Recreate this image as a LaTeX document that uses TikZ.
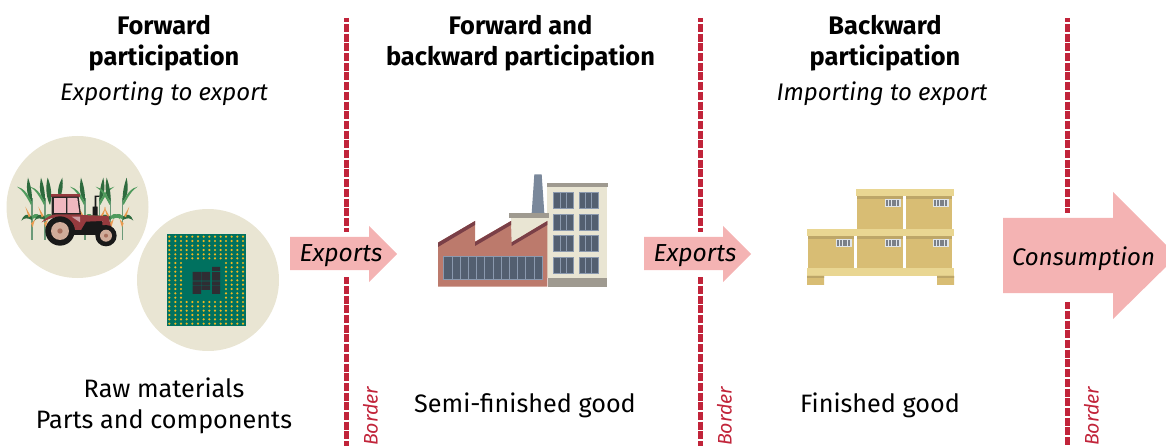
\documentclass[tikz,border=0pt]{standalone}
\usepackage{fontspec}
\setmainfont{Fira Sans}
\definecolor{cream}{HTML}{E9E5D3}
\definecolor{borderred}{HTML}{C1243A}
\definecolor{arrowpink}{HTML}{F4B3B3}
\definecolor{chipgreen}{HTML}{00715F}
\definecolor{chipgold}{HTML}{F2B71F}
\definecolor{chipdark}{HTML}{2F2D33}
\definecolor{stone}{HTML}{9F9A90}
\definecolor{pane}{HTML}{535F70}
\definecolor{paneline}{HTML}{8B99AE}
\definecolor{brick}{HTML}{BC7A6C}
\definecolor{roof}{HTML}{7A3F47}
\definecolor{plank}{HTML}{E9D692}
\definecolor{card}{HTML}{D8BD74}
\definecolor{cardshade}{HTML}{BDA668}
\definecolor{tag}{HTML}{E0E5EA}
\definecolor{tagbar}{HTML}{7B8088}
\definecolor{leafdark}{HTML}{2E6B3E}
\definecolor{leaf}{HTML}{4F9A5C}
\definecolor{stalk}{HTML}{6B9A78}
\definecolor{cob}{HTML}{E99B50}
\definecolor{tractred}{HTML}{963A3E}
\definecolor{tractpink}{HTML}{F0B8C0}
\definecolor{tracthub}{HTML}{D0AC9A}
\definecolor{tractcore}{HTML}{A8705E}
\tikzset{
  titletext/.style={font=\fontsize{25.4}{28}\selectfont\bfseries,text=black,inner sep=0pt,align=center},
  subtext/.style={font=\fontsize{24}{28}\selectfont\itshape,text=black,inner sep=0pt},
  captiontext/.style={font=\fontsize{25.2}{28}\selectfont,text=black,inner sep=0pt},
  arrowtext/.style={font=\fontsize{24.6}{28}\selectfont\itshape,text=black,inner sep=0pt},
  consumptiontext/.style={font=\fontsize{24}{28}\selectfont\itshape,text=black,inner sep=0pt},
  bordertext/.style={font=\fontsize{19.6}{22}\selectfont\itshape,text=borderred,inner sep=0pt,rotate=90},
  borderline/.style={draw=borderred,line width=5pt},
  flow/.style={fill=arrowpink},
  zoomed/.style={x=0.33333pt,y=-0.33333pt},
}
% one corn plant, in units of one third of a pixel; origin on the stalk foot
\newcommand{\cornplant}[2]{%
\begin{scope}[shift={(#1,225)},xscale=#2]
  \draw[stalk,line width=1.2pt] (0,0) -- (0,-125);
  \fill[leafdark] (-12,-187) .. controls (-19,-150) and (-14,-130) .. (0,-115) .. controls (1,-140) and (-4,-165) .. (-12,-187);
  \fill[leaf] (0,-112) .. controls (-12,-140) and (-28,-157) .. (-45,-160) .. controls (-28,-150) and (-15,-128) .. (-3,-105) -- cycle;
  \fill[leafdark] (0,-70) .. controls (-15,-82) and (-25,-76) .. (-32,-58) .. controls (-22,-68) and (-12,-66) .. (0,-60) -- cycle;
  \fill[leaf] (0,-72) .. controls (12,-84) and (22,-78) .. (30,-62) .. controls (20,-70) and (10,-68) .. (0,-62) -- cycle;
  \fill[cob] (-4,-72) -- (-20,-100) -- (-10,-68) -- cycle;
  \fill[cob] (2,-38) -- (9,-62) -- (-3,-50) -- cycle;
\end{scope}}
\newcommand{\cartag}[2]{%
  \fill[tag] (#1,#2) rectangle ++(48,24);
  \fill[tagbar] (#1+3,#2+3) rectangle ++(7,18);
  \fill[tagbar] (#1+12,#2+3) rectangle ++(6,18);
  \fill[tagbar] (#1+21,#2+3) rectangle ++(12,18);
  \fill[tagbar] (#1+36,#2+3) rectangle ++(7,18);}
\newcommand{\carton}[2]{%
  \fill[card] (#1,#2) rectangle ++(138,99);
  \fill[cardshade] (#1,#2) rectangle ++(138,9);}
\newcommand{\winblock}[2]{%
  \fill[pane] (#1,#2) rectangle ++(58,48);
  \draw[paneline,line width=.6pt] (#1,#2) rectangle ++(58,48);
  \draw[paneline,line width=.6pt] (#1+20,#2) -- ++(0,48) (#1+38,#2) -- ++(0,48);}
\begin{document}
\begin{tikzpicture}[x=1pt,y=-1pt]
\useasboundingbox (0,0) rectangle (1166,446);

% borders
\foreach \bx/\bn/\gapa/\gapb in {346.5/a/232/277,700.5/b/232/277,1067.5/c/213/302}{
  \coordinate (top\bn) at (\bx,18);
  \coordinate (upper\bn) at (\bx,\gapa);
  \coordinate (lower\bn) at (\bx,\gapb);
  \coordinate (foot\bn) at (\bx,446);
  \draw[borderline,dash pattern=on 8pt off 1.7pt,dash phase=3.7pt] (top\bn) -- (upper\bn);
  \draw[borderline,dash pattern=on 8pt off 1.7pt,dash phase=0.8pt] (lower\bn) -- (foot\bn);
}

% flow arrows
\fill[flow] (290,237) -- (369,237) -- (369,226) -- (397,254) -- (369,282) -- (369,270) -- (290,270) -- cycle;
\fill[flow] (644,237) -- (723,237) -- (723,226) -- (751,254) -- (723,282) -- (723,270) -- (644,270) -- cycle;
\fill[flow] (1003,218) -- (1113,218) -- (1113,192) -- (1177,256) -- (1113,319) -- (1113,293) -- (1003,293) -- cycle;

% circles
\fill[cream] (77.5,207) circle (71);
\fill[cream] (208,280) circle (71);

% tractor and corn
\begin{scope}[shift={(0,165)},zoomed]
  \cornplant{96}{1}\cornplant{135}{1}\cornplant{255}{1}\cornplant{298}{-1}\cornplant{332}{1}\cornplant{368}{-1}
  \fill[leafdark] (143,38) .. controls (135,70) and (140,100) .. (150,120) .. controls (158,90) and (152,60) .. (143,38);
  \fill[leafdark] (187,38) .. controls (172,65) and (172,85) .. (178,100) .. controls (188,85) and (190,60) .. (187,38);
  % cab
  \fill[tractred] (153,87) -- (241,87) -- (241,95) -- (153,95) -- cycle;
  \fill[black!85] (155,95) -- (236,95) -- (243,150) -- (155,150) -- cycle;
  \fill[tractpink] (161,99) -- (197,99) -- (197,144) -- (161,144) -- cycle;
  \fill[tractpink] (202,99) -- (232,99) -- (238,144) -- (202,144) -- cycle;
  % exhaust
  \fill[black!90] (284,92) -- (298,92) -- (298,96) -- (289,96) -- (289,125) -- (293,125) -- (293,152) -- (278,152) -- (278,125) -- (284,125) -- cycle;
  % chassis
  \fill[black!90] (205,165) -- (300,165) -- (335,190) -- (320,210) -- (215,210) -- cycle;
  % hood and fender
  \fill[tractred] (243,150) -- (325,153) -- (333,186) -- (307,180) -- (307,168) -- (258,170) -- (243,195) -- cycle;
  \fill[tractred] (125,172) .. controls (140,155) and (155,148) .. (170,148) -- (243,148) -- (243,195) -- (225,195) .. controls (222,170) and (205,158) .. (180,156) .. controls (160,156) and (145,162) .. (125,172) -- cycle;
  \fill[tractpink!85!black] (215,155) -- (240,155) -- (240,172) -- cycle;
  % wheels
  \fill[black!90] (180,198) circle (44);
  \fill[tracthub] (180,198) circle (27);
  \fill[tractcore] (180,198) circle (8);
  \fill[black!90] (318,212) circle (32);
  \fill[tracthub] (318,212) circle (18);
  \fill[tractcore] (318,212) circle (6);
\end{scope}

% chip
\begin{scope}[shift={(0,130)},zoomed]
  \fill[chipgreen] (501,312) rectangle (738,587);
  \foreach \cx [count=\ci from 0] in {508,526,543,560,577,594,611,628,645,662,678,695,712,729}{
    \foreach \cy [count=\cj from 0] in {320,333,347,360,373,385,399,412,425,438,451,464,477,490,503,516,529,542,555,568,581}{
      \pgfmathtruncatemacro{\hole}{and(and(\ci>2,\ci<10),and(\cj>5,\cj<15))}
      \ifnum\hole=0 \fill[chipgold] (\cx,\cy) circle (3.6); \fi
    }
  }
  \fill[chipdark] (578,426) rectangle (603,452) (605,426) rectangle (630,452)
    (636,411) rectangle (660,423) (636,426) rectangle (660,452)
    (578,454) rectangle (603,466) (605,454) rectangle (630,466) (636,454) rectangle (660,466)
    (578,468) rectangle (603,492) (605,468) rectangle (630,480) (636,468) rectangle (660,492);
\end{scope}

% factory
\begin{scope}[shift={(420,165)},zoomed]
  \fill[paneline!70!pane] (343,28) -- (365,28) -- (373,145) -- (335,145) -- cycle;
  \fill[cream] (382,60) rectangle (560,340);
  \fill[stone] (380,53) rectangle (563,66);
  \fill[stone] (383,338) rectangle (560,365);
  \foreach \wy in {83,148,212,277}{\winblock{401}{\wy}\winblock{477}{\wy}}
  \fill[cream] (273,158) -- (382,158) -- (382,168) -- (275,232) -- cycle;
  \fill[brick] (54,365) -- (54,233) -- (165,168) -- (165,230) -- (273,168) -- (275,232) -- (382,168) -- (382,365) -- cycle;
  \fill[roof] (54,233) -- (165,168) -- (165,180) -- (54,246) -- cycle;
  \fill[roof] (165,231) -- (273,168) -- (273,180) -- (165,243) -- cycle;
  \fill[roof] (275,232) -- (382,168) -- (382,180) -- (275,243) -- cycle;
  \fill[stone] (267,143) rectangle (387,159);
  \fill[pane] (71,275) rectangle (366,344);
  \draw[paneline,line width=.7pt] (71,275) rectangle (366,344);
  \foreach \mx in {95.6,120.2,144.8,169.4,194,218.6,243.2,267.8,292.4,317,341.6}{\draw[paneline,line width=.7pt] (\mx,275) -- (\mx,344);}
\end{scope}

% cartons
\begin{scope}[shift={(790,175)},zoomed]
  \carton{201}{63}\carton{348}{63}
  \fill[plank] (198,42) rectangle (492,63);
  \carton{54}{183}\carton{201}{183}\carton{348}{183}
  \fill[plank] (51,162) rectangle (492,183);
  \fill[plank] (51,279) rectangle (492,303);
  \fill[card] (51,303) rectangle (102,330) (441,303) rectangle (492,330);
  \fill[cardshade] (51,303) rectangle (102,309) (441,303) rectangle (492,309);
  \cartag{285}{72}\cartag{429}{72}\cartag{138}{192}\cartag{285}{192}\cartag{429}{192}
\end{scope}

% text
\node[titletext] (t1) at (164,43) {Forward\\[2.5pt]participation};
\node[subtext] (s1) at (164,94) {Exporting to export};
\node[titletext] (t2) at (520.5,43) {Forward and\\[2.5pt]backward participation};
\node[titletext] (t3) at (885,43) {Backward\\[2.5pt]participation};
\node[subtext] (s3) at (882,94) {Importing to export};
\node[captiontext] (c1a) at (164,388) {Raw materials};
\node[captiontext] (c1b) at (164,422) {Parts and components};
\node[captiontext] (c2) at (525,405) {Semi-finished good};
\node[captiontext] (c3) at (880,405) {Finished good};
\node[arrowtext] (e1) at (341,256) {Exports};
\node[arrowtext] (e2) at (695,256) {Exports};
\node[consumptiontext] (e3) at (1083.5,259) {Consumption};
\node[bordertext,anchor=west] (b1) at (370.5,446) {Border};
\node[bordertext,anchor=west] (b2) at (724.5,446) {Border};
\node[bordertext,anchor=west] (b3) at (1091.5,446) {Border};
\end{tikzpicture}
\end{document}
